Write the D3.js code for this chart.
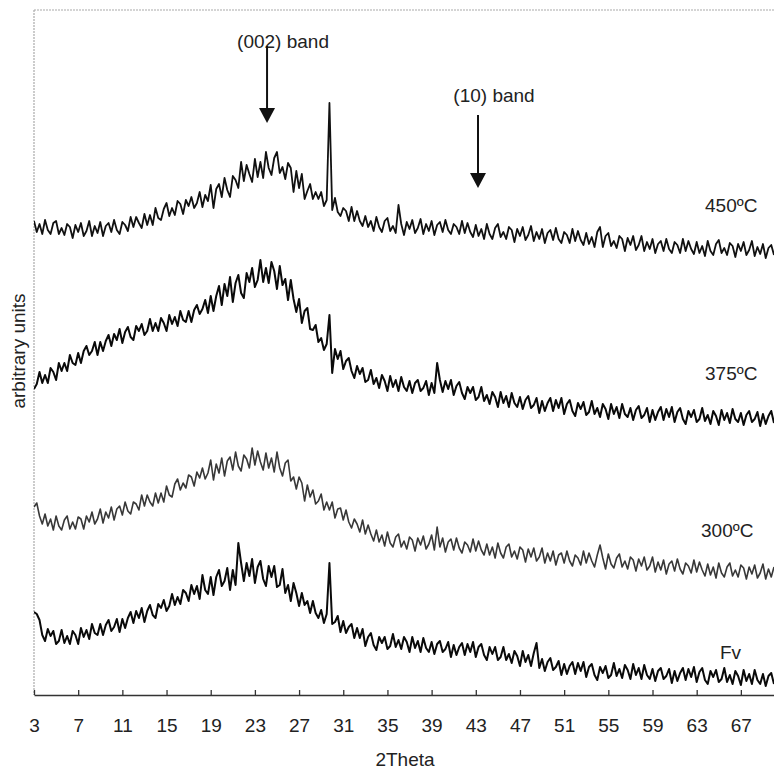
<!DOCTYPE html>
<html>
<head>
<meta charset="utf-8">
<script src="https://cdn.jsdelivr.net/npm/d3@7"></script>
<style>
  html, body { margin: 0; padding: 0; background: #fff; }
  svg { display: block; }
  text { font-family: "Liberation Sans", Arial, sans-serif; fill: #222; }
</style>
</head>
<body>
<script>
// ---------- DATA ----------
// 2Theta sampling: 3.00 to 70.00, every 0.25 degree
const thetaStart = 3;
const thetaStep = 0.25;

const xTicks = [3, 7, 11, 15, 19, 23, 27, 31, 35, 39, 43, 47, 51, 55, 59, 63, 67];

const seriesNames = ["450ºC", "375ºC", "300ºC", "Fv"];

// Intensities (arbitrary units, offset-stacked as in the figure)
const int450 = [
474,463,471,461, 475,465,461,472, 474,461,467,460, 471,468,457,470, 463,472,459,464,
474,459,469,462, 473,459,469,472, 463,475,465,461, 473,470,464,478, 468,478,472,467,
481,470,480,470, 487,477,475,486, 492,479,487,480, 494,491,481,495, 489,498,487,492,
503,488,500,494, 510,487,506,511, 498,517,505,498, 519,515,507,533, 514,530,521,513,
536,518,533,517, 543,527,520,537, 543,522,528,516, 532,527,503,524, 507,521,496,504,
511,496,503,496, 503,489,495,592, 485,497,483,479, 487,484,474,488, 474,484,474,469,
479,468,474,464, 478,468,463,474, 477,464,469,462, 490,471,460,473, 466,475,462,467,
476,461,471,464, 474,460,470,473, 463,475,465,461, 471,468,461,474, 462,472,463,458,
470,459,466,456, 471,461,456,467, 471,458,463,456, 468,465,453,466, 459,468,455,460,
469,454,463,456, 466,452,462,465, 455,467,456,452, 463,460,452,466, 454,464,455,450,
462,451,458,448, 463,468,448,459, 462,449,454,447, 459,456,444,457, 450,459,445,450,
459,444,453,446, 456,442,451,454, 444,456,446,442, 453,450,442,456, 444,454,446,441,
453,442,449,439, 454,444,440,451, 455,442,447,440, 452,449,438,451, 444,453,440,445,
454,439,448,441, 451,437,447,450, 440
];

const int375 = [
306,311,323,312, 320,312,327,323, 315,332,324,332, 324,340,332,330, 342,332,344,349,
340,344,353,340, 353,344,354,360, 349,361,355,366, 352,363,368,358, 355,369,364,371,
360,364,376,364, 372,364,377,372, 364,380,371,378, 369,384,375,373, 384,373,385,390,
381,386,395,382, 399,384,399,409, 390,411,399,418, 393,412,420,402, 397,422,413,427,
408,415,435,413, 427,412,433,424, 406,429,410,416, 395,415,396,383, 396,372,384,387,
366,365,370,353, 357,345,351,380, 322,346,336,344, 326,334,337,324, 317,329,321,327,
313,315,325,311, 317,307,320,314, 304,319,308,315, 304,318,308,304, 314,302,312,315,
304,307,314,300, 312,302,332,315, 303,314,306,315, 300,309,313,302, 296,308,302,308,
295,298,308,294, 300,291,303,298, 288,303,292,299, 288,302,292,288, 298,286,295,299,
287,290,297,282, 294,284,292,297, 284,295,287,297, 281,291,295,284, 279,292,286,293,
280,283,294,281, 287,278,291,286, 276,291,281,288, 277,291,281,278, 287,275,285,289,
277,280,287,273, 285,275,283,288, 275,286,278,288, 273,283,287,276, 271,284,278,285,
273,276,287,274, 280,271,284,279, 270,285,275,282, 272,286,276,273, 282,270,280,284,
273,276,283,269, 281,271,279,284, 272
];

const int300 = [
188,192,179,171, 181,169,176,165, 179,169,165,175, 179,166,173,166, 178,176,166,179,
173,183,171,176, 186,172,183,177, 188,175,186,189, 180,193,184,181, 193,191,185,200,
189,200,193,189, 202,192,202,193, 209,200,198,211, 216,205,212,207, 220,218,209,223,
217,227,216,222, 235,215,231,222, 237,219,234,238, 225,243,229,224, 240,236,227,247,
230,244,233,225, 242,227,237,223, 243,227,219,232, 235,214,218,206, 218,212,194,210,
198,205,191,194, 201,185,193,185, 193,177,186,187, 175,185,173,167, 176,171,163,175,
161,170,161,154, 165,153,160,149, 163,152,148,158, 161,148,154,146, 158,155,144,157,
150,159,146,151, 160,145,168,148, 157,143,153,156, 145,157,147,142, 153,150,143,156,
144,154,145,140, 151,140,148,137, 152,142,137,148, 151,138,144,136, 148,145,133,146,
138,147,134,138, 147,132,142,134, 144,130,140,142, 132,144,134,129, 140,137,130,144,
132,142,134,128, 140,150,137,126, 141,131,127,137, 141,128,134,126, 138,135,124,136,
129,138,125,129, 138,123,133,125, 135,121,131,134, 124,136,126,121, 132,129,122,135,
123,133,125,119, 131,120,128,117, 132,122,118,128, 132,119,125,118, 130,127,116,128,
121,130,117,122, 131,116,126,118, 128
];

const intFv = [
83,81,75,60, 54,66,59,64, 51,54,65,52, 59,51,64,60, 51,67,58,65,
56,71,62,60, 71,60,70,75, 64,68,76,63, 76,67,77,83, 72,84,77,87,
73,84,90,80, 77,91,87,95, 84,89,101,90, 98,91,105,102, 94,110,101,109,
96,120,105,101, 118,100,118,125, 109,114,127,105, 125,110,152,132, 114,132,119,136,
112,128,134,116, 109,129,118,129, 108,110,126,102, 110,94,112,102, 89,102,90,94,
82,94,82,77, 85,72,81,132, 71,73,79,63, 74,62,68,71, 57,67,57,66,
49,58,62,50, 45,58,52,58, 46,49,61,48, 55,46,58,53, 43,58,47,54,
43,57,47,43, 53,41,51,54, 43,46,53,38, 50,40,48,52, 40,51,43,53,
38,48,51,40, 35,48,41,48, 35,38,48,35, 41,32,44,39, 29,44,33,40,
29,42,52,27, 36,24,33,37, 25,28,34,20, 31,21,29,33, 21,32,24,33,
18,28,31,20, 15,28,22,29, 17,20,32,19, 26,17,30,25, 16,31,20,27,
16,30,20,16, 26,14,24,27, 16,19,26,12, 24,14,22,27, 15,26,18,28,
13,23,27,15, 11,24,18,25, 13,16,27,13, 20,11,24,19, 10,25,14,21,
11,25,15,11, 21,9,19,22, 11
];

const seriesValues = [int450, int375, int300, intFv];

// Annotations (band positions in 2Theta)
const bandLabels = ["(002) band", "(10) band"];
const bandTheta = [24.1, 43.2];

// ---------- CHART ----------
const W = 774, H = 772;
const svg = d3.select("body").append("svg").attr("width", W).attr("height", H);

const plot = { left: 34, right: 774, top: 10, bottom: 695 };

const x = d3.scaleLinear().domain([3, 70]).range([plot.left, plot.right]);
const y = d3.scaleLinear().domain([0, 685]).range([plot.bottom, plot.top]);

// frame: dotted gray top and left lines
svg.append("line")
  .attr("x1", plot.left).attr("x2", plot.right)
  .attr("y1", plot.top).attr("y2", plot.top)
  .attr("stroke", "#aaa").attr("stroke-width", 1.2).attr("stroke-dasharray", "2,1");
svg.append("line")
  .attr("x1", plot.left).attr("x2", plot.left)
  .attr("y1", plot.top).attr("y2", plot.bottom)
  .attr("stroke", "#aaa").attr("stroke-width", 1.2).attr("stroke-dasharray", "2,1");

// x axis
const xAxis = d3.axisBottom(x)
  .tickValues(xTicks)
  .tickFormat(d3.format("d"))
  .tickSizeInner(-5)
  .tickSizeOuter(0)
  .tickPadding(24);

const gx = svg.append("g")
  .attr("transform", `translate(0,${plot.bottom})`)
  .call(xAxis);
gx.select(".domain").attr("stroke", "#333").attr("stroke-width", 1.6);
gx.selectAll(".tick line").attr("stroke", "#333").attr("stroke-width", 1.3);
gx.selectAll(".tick text")
  .attr("font-family", '"Liberation Sans", Arial, sans-serif')
  .attr("font-size", 19)
  .attr("fill", "#222");

// axis titles
svg.append("text")
  .attr("x", 405).attr("y", 766)
  .attr("text-anchor", "middle")
  .attr("font-size", 19)
  .text("2Theta");

svg.append("text")
  .attr("transform", "translate(25,351) rotate(-90)")
  .attr("text-anchor", "middle")
  .attr("font-size", 19)
  .text("arbitrary units");

// traces
svg.append("clipPath").attr("id", "clip")
  .append("rect").attr("x", plot.left).attr("y", 0)
  .attr("width", plot.right - plot.left).attr("height", plot.bottom);

const line = d3.line()
  .x((d, i) => x(thetaStart + i * thetaStep))
  .y(d => y(d));

const colors = ["#111", "#0a0a0a", "#383838", "#0a0a0a"];
const widths = [1.8, 2.0, 1.6, 2.0];

svg.append("g").attr("clip-path", "url(#clip)")
  .selectAll("path")
  .data(seriesValues)
  .join("path")
  .attr("d", d => line(d))
  .attr("fill", "none")
  .attr("stroke", (d, i) => colors[i])
  .attr("stroke-width", (d, i) => widths[i])
  .attr("stroke-linejoin", "round");

// series labels
const labelPos = [
  { x: 705, y: 212 },
  { x: 705, y: 380 },
  { x: 701, y: 537 },
  { x: 720, y: 659 }
];
svg.append("g").selectAll("text")
  .data(seriesNames)
  .join("text")
  .attr("x", (d, i) => labelPos[i].x)
  .attr("y", (d, i) => labelPos[i].y)
  .attr("font-size", 19)
  .attr("fill", "#333")
  .text(d => d);

// band annotations with arrows
const bandGeom = [
  { textY: 48, lineTop: 46, tipY: 123 },
  { textY: 102, lineTop: 115, tipY: 188 }
];
const ann = svg.append("g");
bandLabels.forEach((lab, i) => {
  const bx = x(bandTheta[i]);
  const g = bandGeom[i];
  ann.append("text")
    .attr("x", bx + 16).attr("y", g.textY)
    .attr("text-anchor", "middle")
    .attr("font-size", 19)
    .text(lab);
  ann.append("line")
    .attr("x1", bx).attr("x2", bx)
    .attr("y1", g.lineTop).attr("y2", g.tipY - 10)
    .attr("stroke", "#111").attr("stroke-width", 2);
  ann.append("path")
    .attr("d", `M${bx - 8},${g.tipY - 15} L${bx + 8},${g.tipY - 15} L${bx},${g.tipY} Z`)
    .attr("fill", "#111");
});
</script>
</body>
</html>
